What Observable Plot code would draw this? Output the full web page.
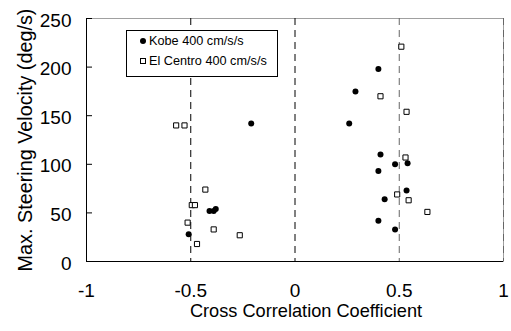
<!DOCTYPE html>
<html>
<head>
<meta charset="utf-8">
<script src="https://cdn.jsdelivr.net/npm/d3@7"></script>
<script src="https://cdn.jsdelivr.net/npm/@observablehq/plot@0.6"></script>
<style>
  html, body { margin: 0; padding: 0; background: white; }
  #wrap { position: relative; width: 511px; height: 331px; font-family: "Liberation Sans", Arial, sans-serif; }
  #legend { position: absolute; left: 126px; top: 30px; width: 152px; height: 47px; border: 1px solid black; background: white; box-sizing: border-box; font-size: 12.7px; }
  .row { position: absolute; left: 22px; white-space: nowrap; line-height: 14px; }
  .mk { position: absolute; box-sizing: border-box; }
  .circ { width: 6px; height: 6px; border-radius: 50%; background: black; }
  .sq { width: 6px; height: 6px; border: 1px solid black; background: white; }
</style>
</head>
<body>
<div id="wrap"></div>
<script>
// Data
const kobeX = [0.40, 0.29, -0.21, 0.26, 0.41, 0.48, 0.54, 0.40, 0.535, 0.43, 0.40, 0.48, -0.51, -0.41, -0.39, -0.38];
const kobeY = [198, 175, 142, 142, 110, 100, 101, 93, 73, 64, 42, 33, 28, 52, 52, 54];
const centroX = [0.51, 0.41, 0.535, -0.57, -0.53, 0.53, -0.43, 0.49, 0.545, 0.635, -0.495, -0.48, -0.515, -0.39, -0.265, -0.47];
const centroY = [221, 170, 154, 140, 140, 107, 74, 69, 63, 51, 58, 58, 40, 33, 27, 18];
const xTicks = [-1, -0.5, 0, 0.5, 1];
const xTickLabels = ["-1", "-0.5", "0", "0.5", "1"];
const yTicks = [0, 50, 100, 150, 200, 250];
const gridX = [-0.5, 0, 0.5, 1];
const seriesNames = ["Kobe 400 cm/s/s", "El Centro 400 cm/s/s"];
const xLabel = "Cross Correlation Coefficient";
const yLabel = "Max. Steering Velocity (deg/s)";

const kobe = kobeX.map((x, i) => ({x, y: kobeY[i]}));
const centro = centroX.map((x, i) => ({x, y: centroY[i]}));
const xDomain = [-1, 1];
const yDomain = [0, 250];
const tickLen = (xDomain[1] - xDomain[0]) * 6 / 417;

const chart = Plot.plot({
  width: 511,
  height: 331,
  marginLeft: 86,
  marginRight: 8,
  marginTop: 18,
  marginBottom: 70,
  style: {fontFamily: "'Liberation Sans', Arial, sans-serif", fontSize: "19px", background: "white", color: "black"},
  x: {domain: xDomain, axis: null},
  y: {domain: yDomain, axis: null},
  marks: [
    Plot.frame({stroke: "#a0a0a0"}),
    Plot.ruleX(gridX, {x: d => d, stroke: d => d >= 0.5 ? "#666666" : "#000000", strokeDasharray: "7,5"}),
    Plot.ruleX([xDomain[0]], {stroke: "black"}),
    Plot.ruleY([yDomain[0]], {stroke: "black"}),
    Plot.ruleY(yTicks.slice(1), {y: d => d, x1: xDomain[0], x2: xDomain[0] + tickLen, stroke: "black"}),
    Plot.text(yTicks, {y: d => d, text: d => String(d), frameAnchor: "left", textAnchor: "end", dx: -15, dy: 2, fontSize: 19, fill: "black"}),
    Plot.text(xTicks, {x: d => d, text: (d, i) => xTickLabels[i], frameAnchor: "bottom", lineAnchor: "middle", dy: 29.5, fontSize: 19, fill: "black"}),
    Plot.text([xLabel], {text: d => d, frameAnchor: "bottom", textAnchor: "middle", dx: 11, dy: 50, lineAnchor: "middle", fontSize: 18.2, fill: "black"}),
    Plot.text([yLabel], {text: d => d, frameAnchor: "left", textAnchor: "middle", dx: -61, rotate: -90, lineAnchor: "middle", fontSize: 19.8, fill: "black"}),
    Plot.dot(centro, {x: "x", y: "y", symbol: "square", r: 2.9, fill: "white", stroke: "black", strokeWidth: 1}),
    Plot.dot(kobe, {x: "x", y: "y", r: 3, fill: "black", stroke: "none"})
  ]
});

const wrap = document.getElementById("wrap");
wrap.appendChild(chart);

const legend = document.createElement("div");
legend.id = "legend";
const rowsTop = [3, 23];
const markerClass = ["circ", "sq"];
seriesNames.forEach((name, i) => {
  const mk = document.createElement("div");
  mk.className = "mk " + markerClass[i];
  mk.style.left = "13px";
  mk.style.top = (rowsTop[i] + 4) + "px";
  legend.appendChild(mk);
  const row = document.createElement("div");
  row.className = "row";
  row.style.top = rowsTop[i] + "px";
  row.textContent = name;
  legend.appendChild(row);
});
wrap.appendChild(legend);
</script>
</body>
</html>
